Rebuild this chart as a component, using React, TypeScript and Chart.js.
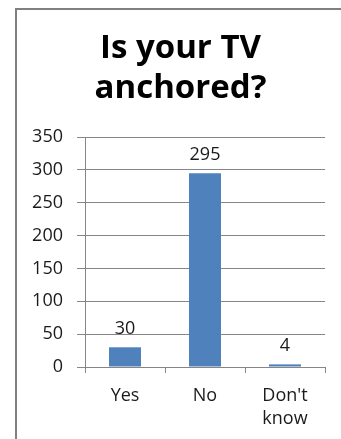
import { useEffect, useRef } from "react";
import { Chart, registerables } from "chart.js";

Chart.register(...registerables);

// Survey answers and counts
const categoryLabels: (string | string[])[] = ["Yes", "No", ["Don't", "know"]];
const responses: number[] = [30, 295, 4];

// Value axis
const yMin = 0;
const yMax = 350;
const yStep = 50;

const titleLines = ["Is your TV", "anchored?"];

const BAR_COLOR = "#4F81BD";
const LINE_COLOR = "#868686";
const TEXT_COLOR = "#1a1a1a";
const FONT = "'Open Sans', 'Liberation Sans', sans-serif";
const FRAME_LEFT = 16;

// Writes each bar's count just above it
const valueLabels = {
  id: "valueLabels",
  afterDatasetsDraw(chart: any) {
    const { ctx } = chart;
    const meta = chart.getDatasetMeta(0);
    ctx.save();
    ctx.font = `18px ${FONT}`;
    ctx.fillStyle = TEXT_COLOR;
    ctx.textAlign = "center";
    ctx.textBaseline = "alphabetic";
    meta.data.forEach((bar: any, i: number) => {
      ctx.fillText(String(responses[i]), bar.x, bar.y - 13);
    });
    ctx.restore();
  },
};

// Two-line heading centred in the framed panel
const panelTitle = {
  id: "panelTitle",
  afterDraw(chart: any) {
    const { ctx } = chart;
    const cx = (FRAME_LEFT + chart.width) / 2 + 2;
    ctx.save();
    ctx.font = `bold 33px ${FONT}`;
    ctx.fillStyle = "#000";
    ctx.textAlign = "center";
    ctx.textBaseline = "alphabetic";
    titleLines.forEach((line, i) => {
      ctx.fillText(line, cx, 58 + i * 40);
    });
    ctx.restore();
  },
};

export default function App() {
  const canvasRef = useRef<HTMLCanvasElement | null>(null);

  useEffect(() => {
    const canvas = canvasRef.current;
    if (!canvas) return;
    const chart = new Chart(canvas, {
      type: "bar",
      data: {
        labels: categoryLabels,
        datasets: [
          {
            data: responses,
            backgroundColor: BAR_COLOR,
            borderWidth: 0,
            barPercentage: 0.4,
            categoryPercentage: 1.0,
          },
        ],
      },
      options: {
        responsive: false,
        animation: false,
        devicePixelRatio: 1,
        layout: { padding: { left: 20, right: 16, top: 137, bottom: 0 } },
        plugins: {
          legend: { display: false },
          tooltip: { enabled: false },
          title: { display: false },
        },
        scales: {
          x: {
            grid: {
              display: true,
              drawOnChartArea: false,
              drawTicks: true,
              tickLength: 6,
              color: LINE_COLOR,
              offset: true,
            },
            border: { display: true, color: LINE_COLOR, width: 1 },
            ticks: {
              color: TEXT_COLOR,
              font: { family: FONT, size: 18, lineHeight: 1.3 },
              maxRotation: 0,
              autoSkip: false,
              padding: 11,
            },
            afterFit(scale: any) {
              scale.height = 72;
            },
          },
          y: {
            min: yMin,
            max: yMax,
            grid: {
              color: LINE_COLOR,
              tickLength: 8,
              drawTicks: true,
            },
            border: { display: true, color: LINE_COLOR, width: 1 },
            ticks: {
              stepSize: yStep,
              color: TEXT_COLOR,
              font: { family: FONT, size: 18 },
              padding: 14,
            },
            afterFit(scale: any) {
              scale.width = 65;
            },
          },
        },
      },
      plugins: [valueLabels, panelTitle],
    });
    return () => chart.destroy();
  }, []);

  return (
    <div style={{ position: "fixed", left: 0, top: 0, width: 341, height: 439, background: "#fff", overflow: "hidden" }}>
      <canvas ref={canvasRef} width={341} height={439} style={{ position: "absolute", left: 0, top: 0 }} />
      <div
        style={{
          position: "absolute",
          left: 15,
          top: 8,
          width: 326,
          height: 431,
          borderLeft: "2px solid #808080",
          borderTop: "2px solid #808080",
          boxSizing: "border-box",
          pointerEvents: "none",
        }}
      />
    </div>
  );
}
